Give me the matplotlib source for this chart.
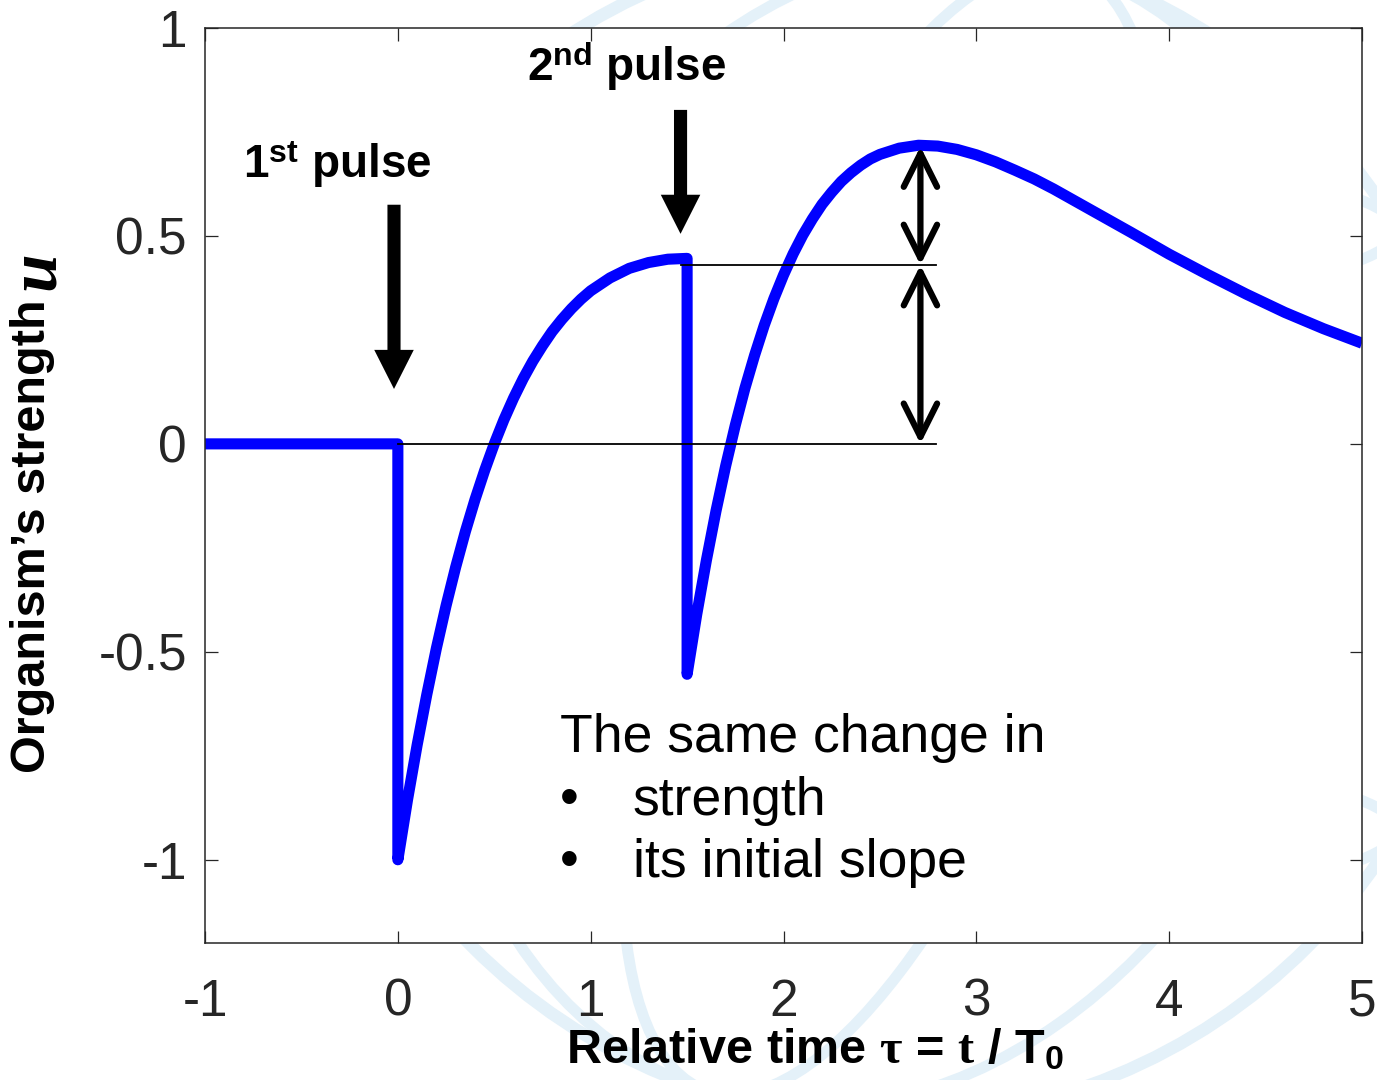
import numpy as np
import matplotlib.pyplot as plt
from matplotlib.patches import Ellipse, Arc

plt.rcParams['font.family'] = ['Liberation Sans', 'DejaVu Sans']
plt.rcParams['mathtext.fontset'] = 'custom'
plt.rcParams['mathtext.rm'] = 'Liberation Serif:bold'
plt.rcParams['mathtext.it'] = 'Liberation Serif:italic:bold'
plt.rcParams['mathtext.bf'] = 'Liberation Serif:bold'
plt.rcParams['mathtext.sf'] = 'Liberation Sans:bold'

# strength u over relative time tau (two pulses at tau = 0 and tau = 1.5)
tau = [-1.0, 0.0, 0.0, 0.05, 0.1, 0.15, 0.2, 0.25, 0.3, 0.35, 0.4, 0.45,
       0.5, 0.55, 0.6, 0.65, 0.7, 0.75, 0.8, 0.85, 0.9, 0.95, 1.0,
       1.1, 1.2, 1.3, 1.4, 1.5, 1.5, 1.55, 1.6, 1.65, 1.7, 1.75, 1.8,
       1.85, 1.9, 1.95, 2.0, 2.05, 2.1, 2.15, 2.2, 2.25, 2.3, 2.35, 2.4,
       2.45, 2.5, 2.6, 2.7, 2.8, 2.9, 3.0, 3.1, 3.2, 3.3, 3.4, 3.6, 3.8,
       4.0, 4.2, 4.4, 4.6, 4.8, 5.0]
u = [0.0, 0.0, -1.0, -0.856, -0.724, -0.603, -0.491, -0.389, -0.296,
     -0.211, -0.134, -0.064, 0.0, 0.058, 0.110, 0.157, 0.199, 0.236,
     0.270, 0.299, 0.325, 0.348, 0.368, 0.399, 0.422, 0.436, 0.444,
     0.446, -0.554, -0.410, -0.280, -0.161, -0.053, 0.045, 0.134, 0.213,
     0.285, 0.349, 0.406, 0.457, 0.502, 0.541, 0.576, 0.605, 0.631,
     0.652, 0.670, 0.685, 0.696, 0.711, 0.718, 0.716, 0.708, 0.695,
     0.678, 0.658, 0.637, 0.613, 0.561, 0.509, 0.456, 0.407, 0.360,
     0.316, 0.277, 0.242]

# pulse markers: x position, arrow top, arrow tip
pulse_x = [-0.02, 1.466]
pulse_top = [0.575, 0.803]
pulse_tip = [0.132, 0.505]
pulse_labels = [r'1$^{\mathsf{st}}$ pulse', r'2$^{\mathsf{nd}}$ pulse']
pulse_label_pos = [(-0.805, 0.640), (0.672, 0.872)]

# change-in-strength brackets
bracket_x = 2.71
base_level = 0.0
level_before = 0.43
peak_level = 0.715
guide_start = [0.0, 1.47]
guide_end = 2.79

xticks = [-1, 0, 1, 2, 3, 4, 5]
xtick_labels = ['-1', '0', '1', '2', '3', '4', '5']
yticks = [-1, -0.5, 0, 0.5, 1]
ytick_labels = ['-1', '-0.5', '0', '0.5', '1']

fig = plt.figure(figsize=(13.77, 10.8), dpi=100)

# faint globe logo behind the plot
wm = '#e4f1f9'
globe_c = (8.9, 10.8 - 5.3)
globe_r = 5.9
fig.patches.append(Ellipse(globe_c, 2 * globe_r, 2 * globe_r, fill=False, ec=wm, lw=9,
                           transform=fig.dpi_scale_trans, zorder=-10))
for w in [0.35, 0.75]:
    fig.patches.append(Ellipse(globe_c, 2 * globe_r * w, 2 * globe_r, angle=-18, fill=False,
                               ec=wm, lw=8, transform=fig.dpi_scale_trans, zorder=-10))
for dy, w in [(3.0, 0.86), (-3.0, 0.86)]:
    fig.patches.append(Arc((globe_c[0], globe_c[1] + dy), 2 * globe_r * w, 1.6, fill=False,
                           ec=wm, lw=8, transform=fig.dpi_scale_trans, zorder=-10))

ax = fig.add_axes([0.1489, 0.1269, 0.8402, 0.8472])
ax.set_zorder(1)
ax.set_facecolor('white')

ax.plot(tau, u, color='#0000ff', lw=8, solid_joinstyle='round',
        solid_capstyle='butt', zorder=2)

# thin reference levels
ax.plot([guide_start[0], guide_end], [base_level, base_level], color='k', lw=1.3, zorder=3)
ax.plot([guide_start[1], guide_end], [level_before, level_before], color='k', lw=1.3, zorder=3)

# double-headed arrows showing the equal change
for y0, y1 in [(level_before, peak_level), (base_level, level_before)]:
    ax.annotate('', xy=(bracket_x, y0), xytext=(bracket_x, y1),
                arrowprops=dict(arrowstyle='<->,head_length=24,head_width=12',
                                mutation_scale=1, lw=4.5, color='k',
                                capstyle='round', joinstyle='round',
                                shrinkA=0, shrinkB=0), zorder=4)

# pulse arrows and labels
for x, top, tip, lab, pos in zip(pulse_x, pulse_top, pulse_tip, pulse_labels, pulse_label_pos):
    ax.arrow(x, top, 0, tip - top, width=0.068, head_width=0.205, head_length=0.094,
             length_includes_head=True, color='k', lw=0, zorder=4)
    ax.text(pos[0], pos[1], lab, fontsize=33, fontweight='bold', va='baseline', ha='left')

# note
ax.text(0.84, -0.740, 'The same change in', fontsize=38.5, va='baseline')
ax.text(0.84, -0.892, '\u2022', fontsize=38.5, va='baseline')
ax.text(1.218, -0.892, 'strength', fontsize=38.5, va='baseline')
ax.text(0.84, -1.041, '\u2022', fontsize=38.5, va='baseline')
ax.text(1.218, -1.041, 'its initial slope', fontsize=38.5, va='baseline')

ax.set_xlim(-1, 5)
ax.set_ylim(-1.2, 1)
ax.set_xticks(xticks)
ax.set_xticklabels(xtick_labels)
ax.set_yticks(yticks)
ax.set_yticklabels(ytick_labels)
ax.tick_params(direction='in', length=9, width=0.9, top=True, right=True,
               labelsize=37, color='#262626', labelcolor='#262626')
ax.tick_params(axis='x', pad=25)
ax.tick_params(axis='y', pad=13)
for s in ax.spines.values():
    s.set_color('#262626')
    s.set_linewidth(1.1)

ax.set_xlabel(r'Relative time $\mathbf{\tau}$ = $\mathbf{t}$ / T$_{\mathsf{0}}$',
              fontsize=35, fontweight='bold')
ax.xaxis.set_label_coords(0.527, -0.093)
ax.set_ylabel('Organism\u2019s strength', fontsize=35, fontweight='bold')
ax.yaxis.set_label_coords(-0.130, 0.445)
fig.text(0.027, 1 - 271 / 1080, 'u', fontsize=50, family='Liberation Serif',
         style='italic', fontweight='bold', rotation=90, ha='center', va='center')

fig.savefig('out.png', dpi=100)
